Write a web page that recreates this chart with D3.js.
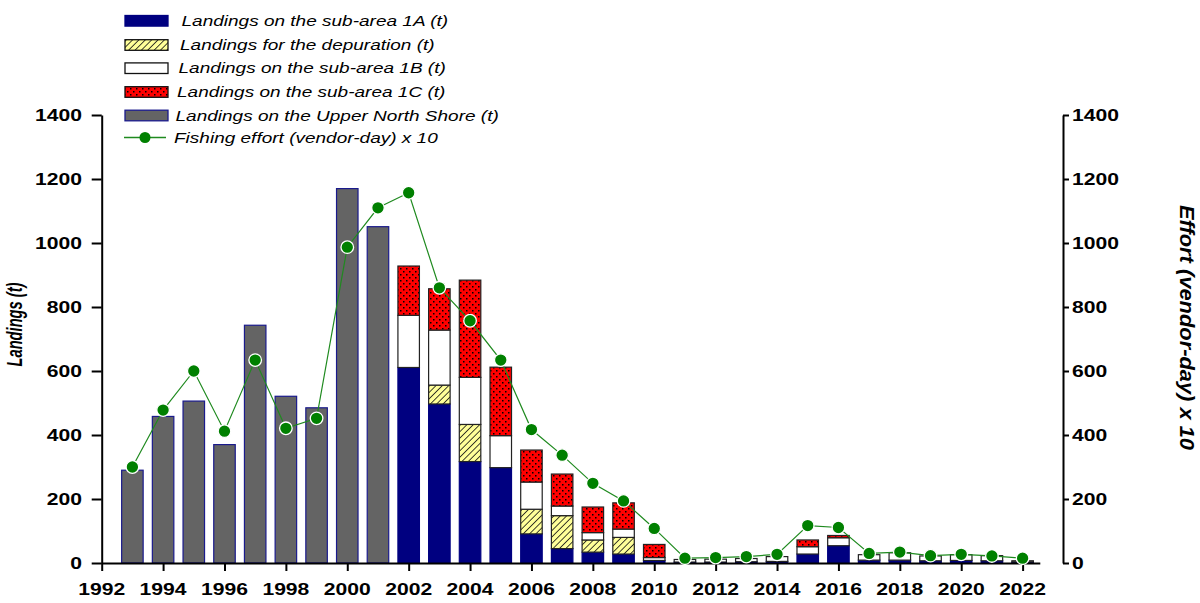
<!DOCTYPE html>
<html>
<head>
<meta charset="utf-8">
<script src="https://cdn.jsdelivr.net/npm/d3@7"></script>
<style>
  html, body { margin: 0; padding: 0; background: #fff; }
  svg { display: block; }
</style>
</head>
<body>
<svg id="chart" width="1200" height="603"></svg>
<script>
// ---------------- DATA ----------------
const years = [1993,1994,1995,1996,1997,1998,1999,2000,2001,2002,2003,2004,2005,2006,2007,2008,2009,2010,2011,2012,2013,2014,2015,2016,2017,2018,2019,2020,2021,2022];
const upperNorthShore = [290,458,506,370,743,521,485,1170,1051,0,0,0,0,0,0,0,0,0,0,0,0,0,0,0,0,0,0,0,0,0];
const subArea1A       = [0,0,0,0,0,0,0,0,0,611,497,317,298,91,45,34,28,8,3,3,4,5,28,54,9,9,7,8,7,3];
const depuration      = [0,0,0,0,0,0,0,0,0,0,59,116,0,77,103,38,52,0,0,0,0,0,0,0,0,0,0,0,0,0];
const subArea1B       = [0,0,0,0,0,0,0,0,0,163,172,147,100,85,30,23,26,9,8,9,10,15,23,25,17,23,15,18,16,4];
const subArea1C       = [0,0,0,0,0,0,0,0,0,154,129,304,214,100,100,80,82,41,0,0,0,0,21,7,0,0,0,0,0,0];
const effort          = [300,478,600,412,634,421,452,987,1110,1157,860,757,634,417,337,249,194,108,15,17,20,27,117,111,30,34,23,27,22,15];
const xTickYears = [1992,1994,1996,1998,2000,2002,2004,2006,2008,2010,2012,2014,2016,2018,2020,2022];
const yTicks = [0,200,400,600,800,1000,1200,1400];
const legendLabels = [
  "Landings on the sub-area 1A (t)",
  "Landings for the depuration (t)",
  "Landings on the sub-area 1B (t)",
  "Landings on the sub-area 1C (t)",
  "Landings on the Upper North Shore (t)",
  "Fishing effort (vendor-day) x 10"
];
const yTitleLeft = "Landings (t)";
const yTitleRight = "Effort (vendor-day) x 10";

// ---------------- SETUP ----------------
const FONT = "'Liberation Sans', Arial, Helvetica, sans-serif";
const SX = 1.32; // horizontal stretch of the original rendering
const svg = d3.select("#chart");

const defs = svg.append("defs");
const hatch = defs.append("pattern").attr("id","hatch").attr("patternUnits","userSpaceOnUse")
  .attr("width",4.5).attr("height",4.5).attr("patternTransform","rotate(45)");
hatch.append("rect").attr("width",4.5).attr("height",4.5).attr("fill","#ffff99");
hatch.append("line").attr("x1",0).attr("y1",0).attr("x2",0).attr("y2",4.5).attr("stroke","#111").attr("stroke-width",1.6);

const dots = defs.append("pattern").attr("id","dots").attr("patternUnits","userSpaceOnUse")
  .attr("width",6).attr("height",6);
dots.append("rect").attr("width",6).attr("height",6).attr("fill","#ff0000");
dots.append("rect").attr("x",1).attr("y",1).attr("width",1.5).attr("height",1.5).attr("fill","#000");
dots.append("rect").attr("x",4).attr("y",4).attr("width",1.5).attr("height",1.5).attr("fill","#000");

const x = d3.scaleLinear().domain([1992, 2022.56]).range([101.7, 1039.8]);
const y = d3.scaleLinear().domain([0, 1400]).range([563, 115]);
const bw = 21.5;

// ---------------- BARS ----------------
const gBars = svg.append("g");
gBars.selectAll("rect.uns").data(years.map((yr,i)=>({yr, v: upperNorthShore[i]})).filter(d=>d.v>0))
  .join("rect").attr("class","uns")
  .attr("x", d=>x(d.yr)-bw/2).attr("width", bw)
  .attr("y", d=>y(d.v)).attr("height", d=>y(0)-y(d.v))
  .attr("fill","#646464").attr("stroke","#1a1a8c").attr("stroke-width",1.2);

const layers = [
  {vals: subArea1A, fill:"#000080", stroke:"#000080"},
  {vals: depuration, fill:"url(#hatch)", stroke:"#222"},
  {vals: subArea1B, fill:"#ffffff", stroke:"#222"},
  {vals: subArea1C, fill:"url(#dots)", stroke:"#222"}
];
const stackRects = [];
years.forEach((yr,i)=>{
  let base = 0;
  layers.forEach(L=>{
    const v = L.vals[i];
    if (v > 0) stackRects.push({yr, y0: base, y1: base+v, fill: L.fill, stroke: L.stroke});
    base += v;
  });
});
gBars.selectAll("rect.stk").data(stackRects).join("rect").attr("class","stk")
  .attr("x", d=>x(d.yr)-bw/2).attr("width", bw)
  .attr("y", d=>y(d.y1)).attr("height", d=>y(d.y0)-y(d.y1))
  .attr("fill", d=>d.fill).attr("stroke", d=>d.stroke).attr("stroke-width",1.2);

// ---------------- AXES ----------------
const axStyle = g => {
  g.selectAll("path,line").attr("stroke","#000").attr("stroke-width",2);
  g.selectAll("text").remove();
};
svg.append("g").attr("transform","translate(0,563)")
  .call(d3.axisBottom(x).tickValues(xTickYears).tickSize(8).tickSizeOuter(0))
  .call(axStyle);
svg.append("g").attr("transform","translate(101.7,0)")
  .call(d3.axisLeft(y).tickValues(yTicks).tickSize(10).tickSizeOuter(0))
  .call(axStyle);
svg.append("g").attr("transform","translate(1063,0)")
  .call(d3.axisRight(y).tickValues(yTicks).tickSize(6).tickSizeOuter(0))
  .call(axStyle);

function sText(px, py, str, anchor, size, weight, style) {
  return svg.append("text")
    .attr("transform", `translate(${px},${py}) scale(${SX},1)`)
    .attr("text-anchor", anchor)
    .attr("font-family", FONT).attr("font-size", size)
    .attr("font-weight", weight).attr("font-style", style)
    .attr("fill","#000").text(str);
}
yTicks.forEach(t=>{
  sText(82, y(t)+6, String(t), "end", 16, "bold", "normal");
  sText(1072, y(t)+6, String(t), "start", 16, "bold", "normal");
});
xTickYears.forEach(t=>{
  sText(x(t), 595, String(t), "middle", 16, "bold", "normal");
});

// axis titles
svg.append("text")
  .attr("transform","translate(22,324.5) rotate(-90) scale(1,1.4)")
  .attr("text-anchor","middle").attr("font-family",FONT).attr("font-size",15.5)
  .attr("font-weight","bold").attr("font-style","italic")
  .attr("textLength",84).attr("lengthAdjust","spacingAndGlyphs")
  .text(yTitleLeft);
svg.append("text")
  .attr("transform","translate(1180,327.5) rotate(90) scale(1,1.3)")
  .attr("text-anchor","middle").attr("font-family",FONT).attr("font-size",16)
  .attr("font-weight","bold").attr("font-style","italic")
  .attr("textLength",245).attr("lengthAdjust","spacingAndGlyphs")
  .text(yTitleRight);

// ---------------- EFFORT LINE ----------------
const effData = years.map((yr,i)=>({yr, v: effort[i]}));
svg.append("path").datum(effData)
  .attr("d", d3.line().x(d=>x(d.yr)).y(d=>y(d.v)))
  .attr("fill","none").attr("stroke","#1f8a1f").attr("stroke-width",1.2);
svg.selectAll("circle.eff").data(effData).join("circle").attr("class","eff")
  .attr("cx", d=>x(d.yr)).attr("cy", d=>y(d.v)).attr("r",6.3)
  .attr("fill","#008000").attr("stroke","#ffffff").attr("stroke-width",1.3);

// ---------------- LEGEND ----------------
const legFills = [
  {fill:"#000080", stroke:"#000080"},
  {fill:"url(#hatch)", stroke:"#111"},
  {fill:"#ffffff", stroke:"#111"},
  {fill:"url(#dots)", stroke:"#111"},
  {fill:"#646464", stroke:"#1a1a8c"}
];
const rowY = [20.8, 45, 68.2, 92, 115.5, 137.5];
const gLeg = svg.append("g");
legFills.forEach((f,i)=>{
  gLeg.append("rect").attr("x",125).attr("y",rowY[i]-5.3).attr("width",43).attr("height",10.6)
    .attr("fill",f.fill).attr("stroke",f.stroke).attr("stroke-width",1.3);
});
gLeg.append("line").attr("x1",124).attr("x2",166).attr("y1",rowY[5]).attr("y2",rowY[5])
  .attr("stroke","#1f8a1f").attr("stroke-width",1.3);
gLeg.append("circle").attr("cx",145).attr("cy",rowY[5]).attr("r",5.5).attr("fill","#008000");
legendLabels.forEach((lab,i)=>{
  sText(181.5 - 1.5*i, rowY[i]+5.2, lab, "start", 14.4, "normal", "italic");
});
</script>
</body>
</html>
